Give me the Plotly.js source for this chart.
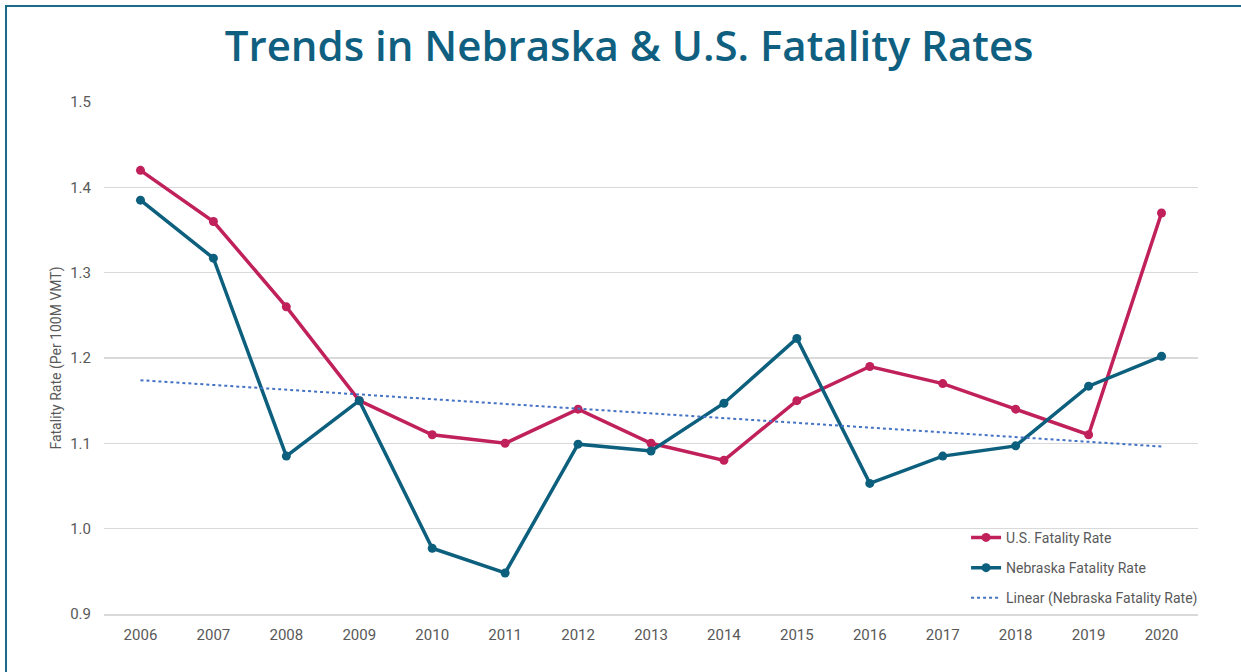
<!DOCTYPE html>
<html>
<head>
<meta charset="utf-8">
<script src="https://cdn.plot.ly/plotly-3.0.1.min.js"></script>
<style>
  html, body { margin: 0; padding: 0; width: 1241px; height: 672px; overflow: hidden; background: #ffffff; }
  #frame { position: absolute; left: 5px; top: 5px; width: 1260px; height: 700px; border: 2px solid #1b6b88; box-sizing: border-box; pointer-events: none; z-index: 2; }
  #chart { position: absolute; left: 0; top: 0; width: 1241px; height: 672px; z-index: 1; }
</style>
</head>
<body>
<div id="chart"></div>
<div id="frame"></div>
<script>
const years = ['2006','2007','2008','2009','2010','2011','2012','2013','2014','2015','2016','2017','2018','2019','2020'];
const usRate = [1.42, 1.36, 1.26, 1.15, 1.11, 1.10, 1.14, 1.10, 1.08, 1.15, 1.19, 1.17, 1.14, 1.11, 1.37];
const nebraskaRate = [1.385, 1.317, 1.085, 1.150, 0.977, 0.948, 1.099, 1.091, 1.147, 1.223, 1.053, 1.085, 1.097, 1.167, 1.202];
const yTicks = [0.9, 1.0, 1.1, 1.2, 1.3, 1.4, 1.5];
const yTickText = ['0.9', '1.0', '1.1', '1.2', '1.3', '1.4', '1.5'];

// Linear trendline (least squares) of the Nebraska series, as Excel draws it
const n = nebraskaRate.length;
const idx = nebraskaRate.map((_, i) => i + 1);
const mx = idx.reduce((a, b) => a + b, 0) / n;
const my = nebraskaRate.reduce((a, b) => a + b, 0) / n;
let sxy = 0, sxx = 0;
for (let i = 0; i < n; i++) { sxy += (idx[i] - mx) * (nebraskaRate[i] - my); sxx += (idx[i] - mx) * (idx[i] - mx); }
const slope = sxy / sxx;
const intercept = my - slope * mx;
const trend = idx.map(x => intercept + slope * x);

const US_COLOR = '#c0215a';
const NE_COLOR = '#0d5f7e';

const traces = [
  { x: years, y: usRate, type: 'scatter', mode: 'lines+markers', name: 'U.S. Fatality Rate',
    legendgroup: 'a', line: { color: US_COLOR, width: 3.5 }, marker: { color: US_COLOR, size: 9 } },
  { x: years, y: nebraskaRate, type: 'scatter', mode: 'lines+markers', name: 'Nebraska Fatality Rate',
    legendgroup: 'b', line: { color: NE_COLOR, width: 3.5 }, marker: { color: NE_COLOR, size: 9 } },
  { x: years, y: trend, type: 'scatter', mode: 'lines', name: 'Linear (Nebraska Fatality Rate)',
    legendgroup: 'c', line: { color: '#4472c4', width: 2, dash: 'dot' } }
];

const layout = {
  width: 1241, height: 672,
  margin: { l: 104, r: 43, t: 102, b: 58 },
  paper_bgcolor: 'rgba(0,0,0,0)',
  plot_bgcolor: 'rgba(0,0,0,0)',
  font: { family: 'Roboto, Arial, sans-serif', color: '#595959', size: 15 },
  title: {
    text: 'Trends in Nebraska &amp; U.S. Fatality Rates',
    font: { family: '"Open Sans", sans-serif', size: 42, color: '#0f6080', weight: 600 },
    x: 0.507, xanchor: 'center', y: 0.931, yanchor: 'middle'
  },
  xaxis: {
    type: 'category',
    range: [-0.5, 14.5],
    showgrid: false, zeroline: false,
    showline: true, linecolor: '#d9d9d9', linewidth: 1.5,
    ticks: '', ticklabelstandoff: 6,
    tickfont: { size: 15, color: '#595959' }
  },
  yaxis: {
    range: [0.8999, 1.5001],
    tickvals: yTicks, ticktext: yTickText,
    showgrid: true, gridcolor: '#d9d9d9', gridwidth: 1.5,
    zeroline: false, showline: false,
    ticks: '', ticklabelstandoff: 12,
    tickfont: { size: 15, color: '#595959' },
    title: { text: 'Fatality Rate (Per 100M VMT)', font: { size: 14, color: '#595959' }, standoff: 5 }
  },
  showlegend: true,
  legend: {
    x: 0.788, y: 0.18, xanchor: 'left', yanchor: 'top',
    bgcolor: 'rgba(0,0,0,0)',
    font: { size: 14, color: '#595959' },
    traceorder: 'grouped', tracegroupgap: 9
  }
};

Plotly.newPlot('chart', traces, layout, { displayModeBar: false, staticPlot: true });
</script>
</body>
</html>
